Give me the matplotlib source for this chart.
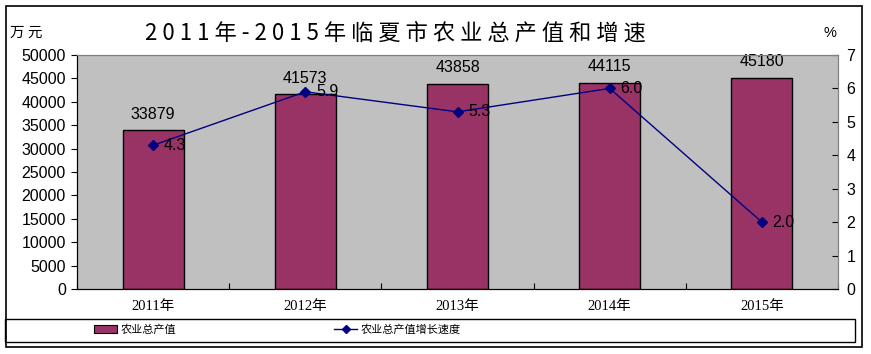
import matplotlib
matplotlib.use('Agg')
import matplotlib.pyplot as plt
from matplotlib.patches import Rectangle, Patch
from matplotlib.lines import Line2D

# data
years = ['2011年', '2012年', '2013年', '2014年', '2015年']
output = [33879, 41573, 43858, 44115, 45180]
growth = [4.3, 5.9, 5.3, 6.0, 2.0]

bar_color = '#993366'
line_color = '#000080'
num_font = ['Liberation Sans', 'Noto Sans CJK SC']
cjk_font = ['Noto Sans CJK SC', 'DejaVu Sans']

W, H = 871, 354
fig = plt.figure(figsize=(W / 100, H / 100), dpi=100)

# outer border
fig.patches.append(Rectangle((6 / W, 1 - 347 / H), 856 / W, 341 / H, transform=fig.transFigure,
                             fill=False, edgecolor='black', lw=1.2))

# plot area
x0, x1, y0, y1 = 77, 838, 55, 289
ax = fig.add_axes([x0 / W, 1 - y1 / H, (x1 - x0) / W, (y1 - y0) / H])
ax.set_facecolor('#C0C0C0')

xs = list(range(len(years)))
ax.bar(xs, output, width=0.4, color=bar_color, edgecolor='black', linewidth=1, zorder=2)
for x, v in zip(xs, output):
    ax.text(x, v + 1800, str(v), ha='center', va='bottom', fontsize=11.5, family=num_font)

ax.set_xlim(-0.5, len(years) - 0.5)
ax.set_ylim(0, 50000)
ax.set_yticks(range(0, 50001, 5000))
ax.set_yticklabels([str(v) for v in range(0, 50001, 5000)], fontsize=11.5, family=num_font)
ax.set_xticks([i + 0.5 for i in range(-1, len(years))], minor=False)
ax.set_xticklabels([])
ax.set_xticks(xs, minor=True)
ax.set_xticklabels(years, minor=True, fontsize=10.5, family=['Liberation Serif', 'Noto Sans CJK SC'])
ax.tick_params(axis='x', which='major', direction='in', length=4)
ax.tick_params(axis='x', which='minor', length=0, pad=8)
ax.tick_params(axis='y', direction='out', length=4, pad=4)
for s in ['top', 'right']:
    ax.spines[s].set_color('#808080')

ax2 = ax.twinx()
ax2.plot(xs, growth, color=line_color, lw=1, marker='D', markersize=5, zorder=3)
for x, v in zip(xs, growth):
    ax2.text(x + 0.07, v, f'{v:.1f}', ha='left', va='center', fontsize=11.5, family=num_font)
ax2.set_ylim(0, 7)
ax2.set_yticks(range(0, 8))
ax2.set_yticklabels([str(v) for v in range(0, 8)], fontsize=11.5, family=num_font)
ax2.tick_params(axis='y', direction='in', length=4, pad=6)
ax2.spines['top'].set_color('#808080')
ax2.spines['right'].set_color('#808080')

# title and unit labels
title = '2011年-2015年临夏市农业总产值和增速'
fig.text(395 / W, 1 - 33 / H, ' '.join(title), ha='center', va='center',
         fontsize=16, family=cjk_font)
fig.text(10 / W, 1 - 33 / H, '万 元', ha='left', va='center', fontsize=10.5, family=cjk_font)
fig.text(830 / W, 1 - 33 / H, '%', ha='center', va='center', fontsize=10.5, family=num_font)

# legend
fig.patches.append(Rectangle((5 / W, 1 - 342 / H), 850 / W, 23 / H, transform=fig.transFigure,
                             fill=False, edgecolor='black', lw=1))
handles = [Patch(facecolor=bar_color, edgecolor='black', lw=0.8),
           Line2D([], [], color=line_color, lw=1, marker='D', markersize=4)]
fig.legend(handles, ['农业总产值', '农业总产值增长速度'], ncol=2, frameon=False,
           loc='center left', bbox_to_anchor=(84 / W, 1 - 330 / H),
           prop={'family': cjk_font, 'size': 8}, columnspacing=14.2, handlelength=2.1,
           handletextpad=0.3)

fig.savefig('out.png', dpi=100)
